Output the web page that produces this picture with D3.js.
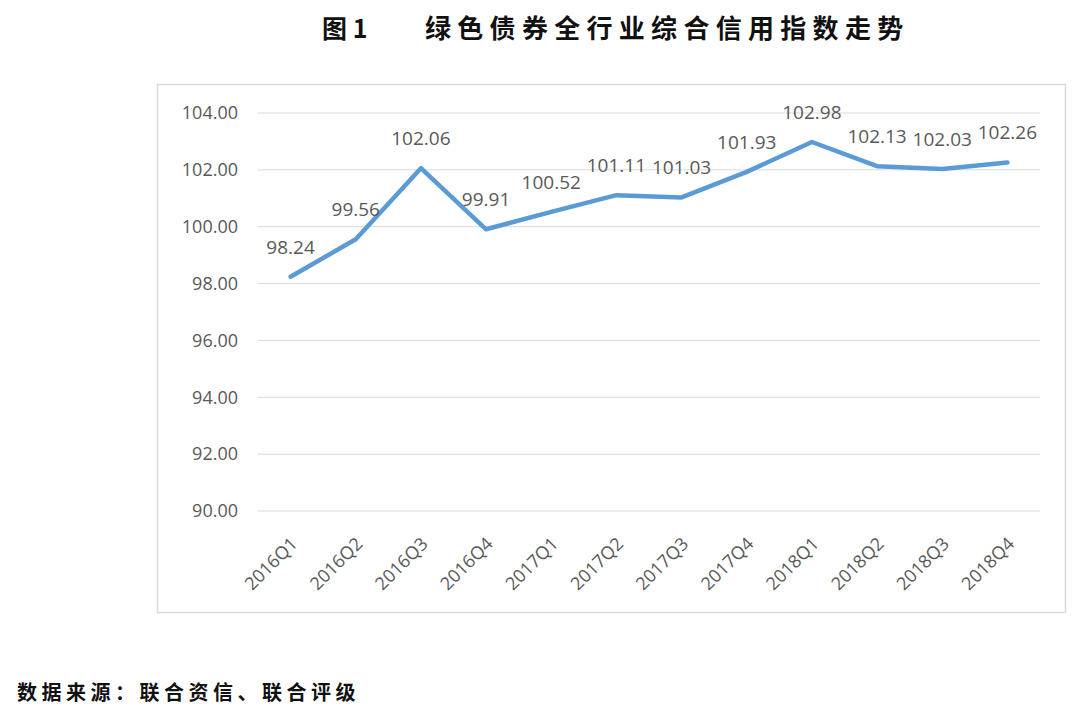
<!DOCTYPE html>
<html><head><meta charset="utf-8">
<script src="https://cdn.jsdelivr.net/npm/d3@7"></script>
<style>body{margin:0;background:#fff;}svg{display:block;}</style>
</head><body>
<svg id="c" width="1080" height="713"></svg>
<script>
const categories = ["2016Q1","2016Q2","2016Q3","2016Q4","2017Q1","2017Q2","2017Q3","2017Q4","2018Q1","2018Q2","2018Q3","2018Q4"];
const values = [98.24,99.56,102.06,99.91,100.52,101.11,101.03,101.93,102.98,102.13,102.03,102.26];
const yTicks = [90,92,94,96,98,100,102,104];
const titleText = "图 1";
const titleText2 = "绿色债券全行业综合信用指数走势";
const sourceText = "数据来源：联合资信、联合评级";

const svg = d3.select("#c");
const font = "'Open Sans', 'Noto Sans', sans-serif";
const cjk = "'Noto Sans CJK SC', sans-serif";

svg.append("rect").attr("x",157.5).attr("y",84.5).attr("width",908).attr("height",528)
  .attr("fill","#fff").attr("stroke","#d9d9d9").attr("stroke-width",1.5);

const x = d3.scaleBand().domain(categories).range([258,1040]);
const y = d3.scaleLinear().domain([90,104]).range([511,113]);

// gridlines
svg.append("g").selectAll("line").data(yTicks).join("line")
  .attr("x1",258).attr("x2",1040).attr("y1",d=>y(d)).attr("y2",d=>y(d))
  .attr("stroke","#d9d9d9").attr("stroke-width",1);

// y axis
const ya = svg.append("g").attr("transform","translate(258,0)")
  .call(d3.axisLeft(y).tickValues(yTicks).tickSize(0).tickPadding(20).tickFormat(d3.format(".2f")));
ya.select(".domain").remove();
ya.selectAll("text").attr("fill","#595959").style("font-family",font).style("font-size","18px");

// x axis
const xa = svg.append("g").attr("transform","translate(0,511)")
  .call(d3.axisBottom(x).tickSize(0).tickPadding(0));
xa.select(".domain").remove();
xa.selectAll("text").attr("fill","#595959").style("font-family",font).style("font-size","18px")
  .attr("text-anchor","end").attr("dy",null).attr("y",0)
  .attr("transform","translate(8,34) rotate(-45)");

// line
const line = d3.line().x((d,i)=>x(categories[i])+x.bandwidth()/2).y(d=>y(d));
svg.append("path").datum(values).attr("d",line).attr("fill","none")
  .attr("stroke","#5b9bd5").attr("stroke-width",4.5).attr("stroke-linejoin","round").attr("stroke-linecap","round");

// labels
svg.append("g").selectAll("text").data(values).join("text")
  .attr("x",(d,i)=>x(categories[i])+x.bandwidth()/2)
  .attr("y",d=>y(d)-23)
  .attr("text-anchor","middle").attr("fill","#595959")
  .style("font-family",font).style("font-size","19px")
  .text(d=>d.toFixed(2));

// title
svg.append("text").attr("x",322).attr("y",38).attr("fill","#111")
  .style("font-family",cjk).style("font-weight","bold").style("font-size","25px").text(titleText);
svg.append("text").attr("x",425).attr("y",38).attr("fill","#111")
  .style("font-family",cjk).style("font-weight","bold").style("font-size","26px")
  .style("letter-spacing","6.3px").text(titleText2);

// source
svg.append("text").attr("x",17).attr("y",700).attr("fill","#111")
  .style("font-family",cjk).style("font-weight","bold").style("font-size","20px")
  .style("letter-spacing","4.5px").text(sourceText);
</script>
</body></html>
